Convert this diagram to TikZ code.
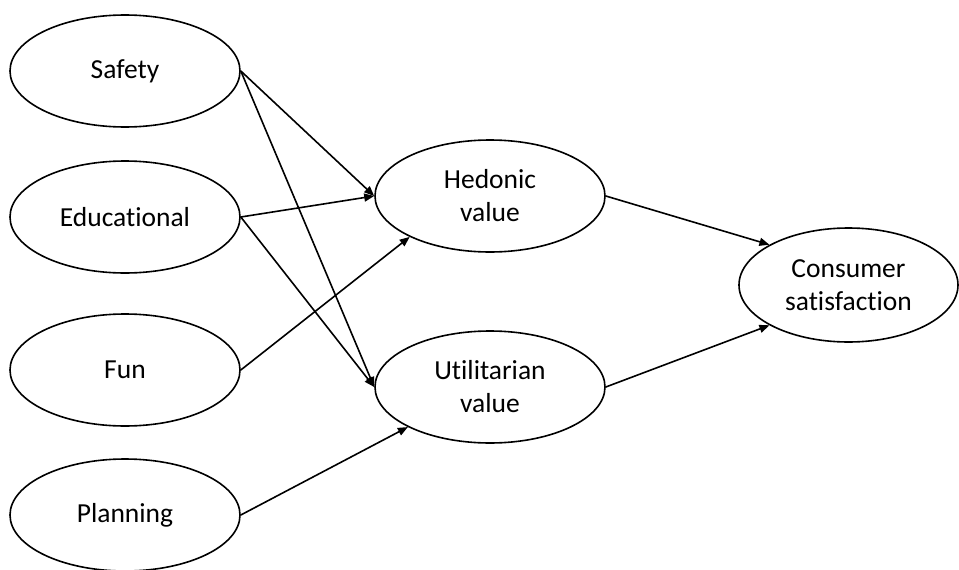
\documentclass[tikz,border=0pt]{standalone}
\usepackage{fontspec}
\setmainfont{Carlito}[Ligatures={NoCommon}]
\usetikzlibrary{shapes.geometric,arrows.meta}
\begin{document}
\begin{tikzpicture}[x=1pt,y=-1pt,
  construct/.style={ellipse, draw=black, line width=1.6pt, fill=white,
    minimum width=230pt, minimum height=112pt, inner sep=0pt,
    align=center, font=\fontsize{27.5}{33}\selectfont},
  path/.style={line width=1.6pt, -{Triangle[length=10pt,width=8pt]}}]
  \useasboundingbox (0,0) rectangle (959,570);
  % exogenous constructs
  \node[construct] (safety) at (125,71) {Safety};
  \node[construct] (edu) at (125,217) {Educational};
  \node[construct] (fun) at (125,370) {Fun};
  \node[construct] (plan) at (125,515) {Planning};
  % mediators
  \node[construct] (hed) at (490,196) {Hedonic\\value};
  \node[construct] (util) at (490,387) {Utilitarian\\value};
  % outcome
  \node[construct, minimum width=219pt, minimum height=114pt] (cs) at (848.5,285) {Consumer\\satisfaction};
  % structural paths
  \draw[path] (safety.east) -- (hed.west);
  \draw[path] (safety.east) -- (util.west);
  \draw[path] (edu.east) -- (hed.west);
  \draw[path] (edu.east) -- (util.west);
  \draw[path] (fun.east) -- (hed.207);
  \draw[path] (plan.east) -- (util.206);
  \draw[path] (hed.east) -- (cs.153);
  \draw[path] (util.east) -- (cs.207);
\end{tikzpicture}
\end{document}
